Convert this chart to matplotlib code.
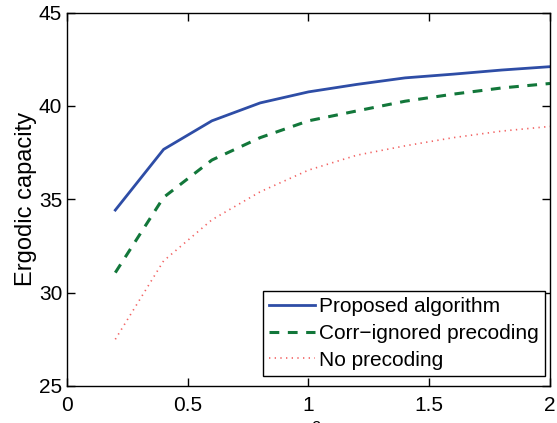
import numpy as np
from matplotlib import pyplot as plt

plt.rcParams['font.family'] = ['Liberation Sans', 'DejaVu Sans']
plt.rcParams['mathtext.fontset'] = 'custom'
plt.rcParams['mathtext.rm'] = 'Liberation Sans'
plt.rcParams['mathtext.it'] = 'Liberation Sans:italic'

sigma2 = [0.2, 0.4, 0.6, 0.8, 1.0, 1.2, 1.4, 1.6, 1.8, 2.0]
proposed = [34.42, 37.67, 39.2, 40.16, 40.75, 41.15, 41.5, 41.7, 41.92, 42.1]
corr_ignored = [31.07, 35.1, 37.1, 38.3, 39.2, 39.73, 40.25, 40.63, 40.96, 41.2]
no_precoding = [27.5, 31.7, 33.9, 35.4, 36.56, 37.36, 37.86, 38.3, 38.65, 38.9]

labels = ["Proposed algorithm", "Corr\u2212ignored precoding", "No precoding"]

fig = plt.figure(figsize=(5.57, 4.23), dpi=100)
ax = fig.add_axes([0.1203, 0.0875, 0.8671, 0.8829])

ax.plot(sigma2, proposed, '-', color='#2e4da6', lw=2.0, label=labels[0])
ax.plot(sigma2, corr_ignored, '--', color='#12773a', lw=2.2, dashes=(3.2, 2.8), label=labels[1])
ax.plot(sigma2, no_precoding, ':', color='#f26262', lw=1.2, dashes=(0.8, 2.6), label=labels[2])

ax.set_xlim(0, 2)
ax.set_ylim(25, 45)
ax.set_xticks([0, 0.5, 1, 1.5, 2])
ax.set_xticklabels(['0', '0.5', '1', '1.5', '2'])
ax.set_yticks([25, 30, 35, 40, 45])
ax.tick_params(direction='in', length=6, width=1, top=True, right=True, labelsize=15)
ax.tick_params(axis='x', pad=7)
ax.tick_params(axis='y', pad=3.5)
for s in ax.spines.values():
    s.set_linewidth(1.0)

ax.set_ylabel("Ergodic capacity", fontsize=17, labelpad=1)
ax.set_xlabel(r"$\sigma^2$", fontsize=17, labelpad=6)

leg = ax.legend(loc='lower right', bbox_to_anchor=(0.9896, 0.0268), borderaxespad=0,
                fontsize=15, fancybox=False, framealpha=1,
                edgecolor='black', handlelength=2.2, handletextpad=0.2,
                borderpad=0.3, labelspacing=0.38)
leg.get_frame().set_linewidth(1.0)

plt.savefig("out.png", dpi=100)
